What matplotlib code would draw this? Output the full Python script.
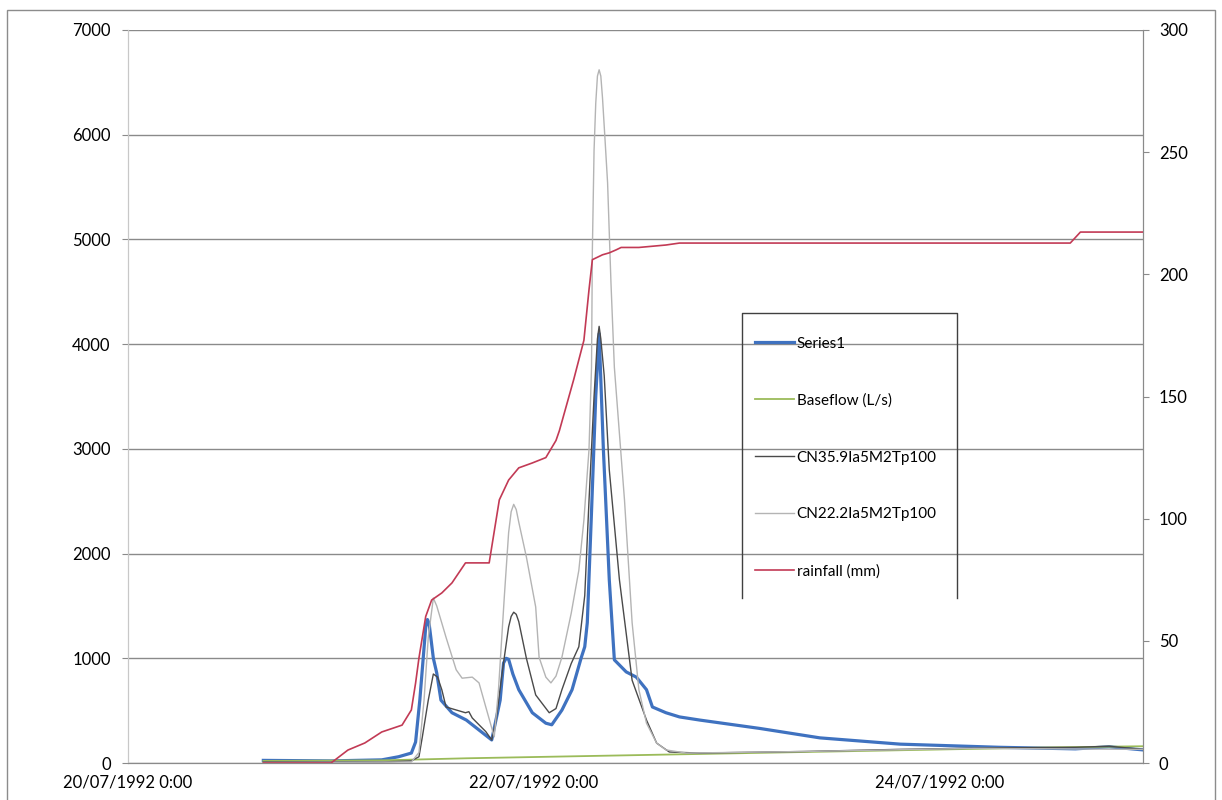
import numpy as np
import pandas as pd
import matplotlib
matplotlib.use("Agg")
import matplotlib.pyplot as plt
import matplotlib.dates as mdates
from matplotlib.lines import Line2D
from matplotlib.patches import Rectangle

plt.rcParams['font.family'] = ['Lato', 'DejaVu Sans']

start = pd.Timestamp('1992-07-20 00:00')

# hours after 20/07/1992 0:00 and flow (L/s)
series1_h = [16, 24, 30, 32, 33.5, 34, 34.5, 35, 35.2, 35.4, 35.6, 35.8, 36.1, 36.5, 37, 38.3,
             40, 41.5, 43, 44, 44.4, 44.7, 45, 45.5, 46.2, 47.8, 49.4, 50.1, 51.3, 52.5, 53.6,
             54, 54.3, 54.8, 55.3, 55.7, 56.2, 56.9, 57.5, 58.9, 60.1, 61.3, 62, 63.6, 65.2,
             67.6, 74.7, 81.8, 91.3, 103, 112, 116, 120]
series1_q = [25, 20, 30, 60, 95, 200, 600, 1100, 1300, 1370, 1330, 1200, 1000, 860, 600, 480,
             410, 315, 220, 600, 955, 1000, 990, 850, 700, 480, 380, 365, 505, 700, 1010,
             1110, 1340, 2400, 3500, 4100, 3000, 1750, 985, 870, 820, 700, 535, 480, 440,
             410, 330, 240, 180, 150, 135, 155, 125]

baseflow_h = [16, 30, 40, 50, 60, 70, 80, 90, 100, 110, 120]
baseflow_q = [20, 25, 45, 60, 75, 90, 105, 120, 135, 150, 160]

cn359_h = [16, 30, 33.5, 34.4, 34.8, 35.5, 36.1, 36.6, 37.1, 37.6, 39.9, 40.3, 40.7, 42.3,
           43, 43.5, 44.3, 45, 45.3, 45.6, 45.9, 46.2, 47.1, 48.2, 49.8, 50.6, 51.3, 52.4,
           53.3, 54, 54.5, 55.1, 55.5, 55.7, 55.9, 56.3, 56.9, 58.1, 59.6, 61.3, 62.5, 64,
           67.6, 80, 91, 103, 112, 116, 120]
cn359_q = [10, 10, 20, 60, 250, 600, 850, 820, 700, 535, 480, 490, 430, 300,
           220, 400, 900, 1300, 1400, 1440, 1420, 1350, 1000, 650, 480, 520, 700, 950,
           1110, 1600, 2500, 3500, 4050, 4170, 4050, 3700, 2800, 1750, 790, 410, 190, 105,
           95, 110, 130, 145, 150, 160, 130]

cn222_h = [16, 33.5, 34.4, 35, 35.5, 36.1, 36.5, 37.6, 38.8, 39.5, 40.7, 41.5, 42.3, 43.3,
           43.8, 44.5, 45, 45.3, 45.6, 45.9, 46.2, 47.1, 48.2, 48.6, 49.4, 50, 50.6, 51.3,
           52.4, 53.3, 53.9, 54.5, 54.8, 54.9, 55.1, 55.3, 55.5, 55.7, 55.9, 56.1, 56.4,
           56.7, 57.1, 57.5, 58.7, 59.6, 60.4, 61.3, 62.5, 63.6, 66, 80, 100, 120]
cn222_q = [5, 10, 100, 600, 1200, 1575, 1500, 1200, 890, 810, 820, 765, 535, 250,
           700, 1600, 2200, 2400, 2470, 2420, 2300, 1967, 1490, 1010, 820, 765, 830, 1010,
           1430, 1840, 2320, 2990, 3780, 4900, 5850, 6300, 6560, 6620, 6560, 6350, 5950,
           5540, 4585, 3780, 2510, 1340, 700, 380, 190, 125, 95, 110, 140, 130]

# cumulative rainfall (mm)
rain_h = [16, 24, 26, 28, 30, 32.4, 33.5, 34, 34.4, 35.2, 35.9, 37.1, 38.3, 39.9, 42.7,
          43.9, 45, 46.2, 47.8, 49.4, 50.6, 51, 52.7, 53.9, 54.5, 54.9, 56.1, 56.9, 57.7,
          58.3, 60.4, 63.6, 65.2, 111.4, 112.6, 120]
rain_mm = [0, 0, 5.3, 8.2, 12.7, 15.5, 21.7, 32.7, 43, 60, 66.7, 69.6, 73.7, 81.9, 81.9,
           107.7, 115.8, 120.8, 122.8, 125, 132, 136, 157, 173, 193.6, 206, 208, 208.8, 210,
           211, 211, 212, 212.8, 212.8, 217.3, 217.3]


def to_time(hours):
    return start + pd.to_timedelta(hours, unit='h')


fig = plt.figure(figsize=(12.22, 8), dpi=100)
ax = fig.add_axes([128 / 1222, 1 - 763 / 800, (1143 - 128) / 1222, (763 - 30) / 800])
ax2 = ax.twinx()

# outer chart border
fig.add_artist(Rectangle((7 / 1222, -0.02), (1215 - 7) / 1222, 1.0 - 10 / 800 + 0.02,
                         transform=fig.transFigure, fill=False, edgecolor='#8c8c8c', lw=1))

l1, = ax.plot(to_time(series1_h), series1_q, color='#3f72c0', lw=2.3, label='Series1')
l2, = ax.plot(to_time(baseflow_h), baseflow_q, color='#9bbb59', lw=1.3, label='Baseflow (L/s)')
l3, = ax.plot(to_time(cn359_h), cn359_q, color='#4a4a4a', lw=1.0, label='CN35.9Ia5M2Tp100')
l4, = ax.plot(to_time(cn222_h), cn222_q, color='#b4b4b4', lw=1.0, label='CN22.2Ia5M2Tp100')
l5, = ax2.plot(to_time(rain_h), rain_mm, color='#c23a55', lw=1.2, label='rainfall (mm)')

ax.set_ylim(0, 7000)
ax.set_yticks(np.arange(0, 7001, 1000))
ax2.set_ylim(0, 300)
ax2.set_yticks(np.arange(0, 301, 50))
ax.set_xlim(start, start + pd.Timedelta(days=5))
ax.set_xticks([start, start + pd.Timedelta(days=2), start + pd.Timedelta(days=4)])


def fmt_date(x, pos):
    d = mdates.num2date(x)
    return f"{d.day:02d}/{d.month:02d}/{d.year} {d.hour}:{d.minute:02d}"


ax.xaxis.set_major_formatter(plt.FuncFormatter(fmt_date))

ax.grid(axis='y', color='#8a8a8a', lw=1)
ax.set_axisbelow(True)
for a in (ax, ax2):
    a.spines['top'].set_visible(False)
    a.spines['left'].set_color('#c8c8c8')
    a.spines['right'].set_color('#8a8a8a')
    a.spines['bottom'].set_color('#8a8a8a')
ax.tick_params(axis='y', length=4.5, color='#8a8a8a', pad=8, labelsize=12)
ax2.tick_params(axis='y', length=4.5, color='#8a8a8a', pad=7, labelsize=12)
ax.tick_params(axis='x', length=0, pad=8, labelsize=12)

# legend box with open bottom
fig.add_artist(Line2D([742 / 1222, 742 / 1222, 957 / 1222, 957 / 1222],
                      [1 - 598 / 800, 1 - 313 / 800, 1 - 313 / 800, 1 - 598 / 800],
                      transform=fig.transFigure, color='#404040', lw=1))
fig.legend(handles=[l1, l2, l3, l4, l5], loc='upper left',
           bbox_to_anchor=(747 / 1222, 1 - 329 / 800), frameon=False, fontsize=11,
           borderpad=0, labelspacing=2.8, handlelength=2.6, handletextpad=0.15)

fig.savefig('out.png', dpi=100)
